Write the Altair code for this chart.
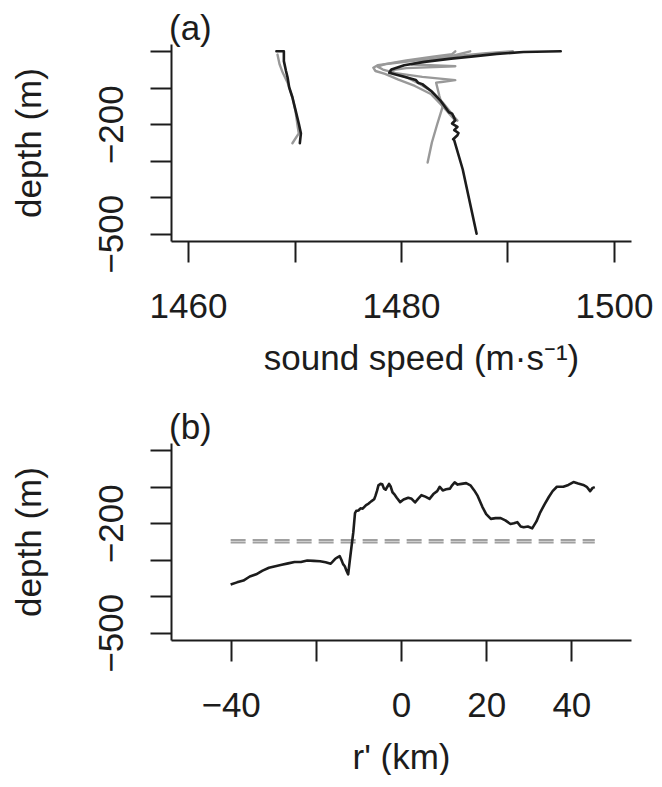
import altair as alt
import pandas as pd

# ---------------- panel (a): sound speed profiles ----------------
# black profiles (speed m/s, depth m)
blk_left_s = [1468.3, 1469.0, 1469.0, 1469.2, 1469.35, 1469.5, 1469.8, 1470.1, 1470.4, 1470.6, 1470.5]
blk_left_d = [0, 0, -27, -54, -72, -99, -126, -162, -198, -225, -252]

blk_right_s = [1495.0, 1491.5, 1489.0, 1486.8, 1484.7, 1482.2, 1480.3, 1479.1, 1478.9, 1479.4,
               1480.3, 1481.4, 1481.6, 1482.0, 1482.8, 1483.7, 1484.5, 1484.8, 1485.1, 1484.8,
               1485.3, 1485.0, 1485.4, 1485.3, 1484.9, 1485.0, 1485.8, 1487.1]
blk_right_d = [0, -2, -7, -14, -20, -29, -38, -50, -59, -63,
               -70, -79, -86, -90, -108, -135, -167, -171, -189, -198,
               -207, -216, -224, -230, -241, -244, -324, -500]

# grey profiles
gry_left_s = [1468.4, 1468.6, 1468.9, 1469.35, 1469.8, 1470.1, 1470.3, 1470.4, 1469.8]
gry_left_d = [-9, -36, -59, -86, -126, -165, -207, -225, -252]

gry1_s = [1490.5, 1488.0, 1485.5, 1483.0, 1480.0, 1477.8, 1477.4, 1477.6, 1478.5, 1479.7,
          1481.3, 1482.8, 1484.0, 1484.8, 1485.1]
gry1_d = [0, -5, -12, -20, -30, -38, -45, -54, -62, -77,
          -95, -117, -153, -180, -190]

gry2_s = [1485.1, 1484.8, 1483.0, 1480.5, 1478.5, 1477.8, 1478.3, 1479.5, 1482.0, 1485.1,
          1483.8, 1483.3, 1483.6, 1483.9, 1483.4, 1482.9, 1482.5]
gry2_d = [0, -8, -15, -25, -35, -42, -50, -60, -70, -79,
          -84, -86, -122, -153, -200, -250, -305]

gry3_s = [1486.5, 1484.5, 1482.0, 1481.0, 1485.1, 1480.5, 1479.0, 1479.4, 1480.6, 1481.8,
          1482.9, 1483.9, 1484.6, 1485.0, 1485.3]
gry3_d = [0, -15, -28, -36, -41, -46, -52, -60, -72, -90,
          -110, -140, -165, -180, -190]

# ---------------- panel (b): interface depth along r' ----------------
r_km = [-40, -38.5, -37, -35.5, -34, -32.5, -31, -29.5, -28, -26.5, -25, -23.5, -22, -20.5,
        -19, -17.7, -16.5, -15.5, -15, -14.4, -14, -13.6, -13.2, -12.8, -12.4, -12.0, -11.6,
        -11.2, -10.8, -10.5, -10, -9.5, -9, -8.2, -7.6, -7, -6.3, -6, -5.6, -5.3, -4.8, -4.4,
        -4.0, -3.6, -3.2, -2.8, -2.4, -2.0, -1.6, -1.0, -0.2, 0.6, 1.7, 2.5, 3.3, 4.0, 4.8,
        5.7, 6.7, 7.6, 8.5, 9.1, 9.8, 10.6, 11.5, 12.0, 12.6, 13.3, 14.2, 15.3, 16.3, 17.2,
        18.0, 19.1, 20.0, 21.1, 22.2, 23.4, 24.5, 25.7, 26.5, 27.3, 28.1, 28.8, 29.8, 30.8,
        31.8, 32.7, 33.7, 34.7, 35.6, 36.6, 37.4, 38.1, 39.3, 40.5, 41.6, 42.8, 43.6, 44.4,
        45.0, 45.5]
depth_b = [-368, -362, -357, -346, -340, -330, -322, -318, -314, -310, -306, -306, -302, -303,
           -304, -307, -311, -298, -294, -290, -300, -312, -318, -330, -340, -300, -262,
           -225, -172, -166, -165, -159, -160, -150, -146, -140, -134, -125, -110, -96, -92, -93,
           -105, -108, -100, -92, -100, -115, -120, -130, -142, -135, -130, -133, -143, -133, -123,
           -127, -133, -120, -112, -100, -110, -107, -105, -96, -88, -94, -92, -90, -96, -110,
           -125, -155, -175, -188, -186, -186, -192, -202, -200, -197, -209, -211, -209, -214,
           -195, -170, -148, -128, -112, -100, -100, -100, -95, -87, -91, -95, -100, -112,
           -103, -101]

ref_depths = [-246, -253]
ref_r_start = -40
ref_r_end = 45.5

a_x_ticks = [1460, 1470, 1480, 1490, 1500]
b_x_ticks = [-40, -20, 0, 20, 40]
y_ticks = [0, -100, -200, -300, -400, -500]

BLACK = "#1c1c1c"
GREY = "#999999"
FONT = "Liberation Sans"
FS = 35

W, H = 460, 197


def profiles(named):
    rows = []
    for name, (ss, dd) in named.items():
        for i, (s, d) in enumerate(zip(ss, dd)):
            rows.append({"series": name, "i": i, "s": s, "d": d})
    return pd.DataFrame(rows)


grey_df = profiles({"gl": (gry_left_s, gry_left_d), "g1": (gry1_s, gry1_d),
                    "g2": (gry2_s, gry2_d), "g3": (gry3_s, gry3_d)})
black_df = profiles({"bl": (blk_left_s, blk_left_d), "br": (blk_right_s, blk_right_d)})

yscale = alt.Scale(domain=[-520, 20], nice=False, zero=False)
y_axis = alt.Axis(
    values=y_ticks, tickCount=len(y_ticks),
    labelExpr="datum.value == -200 || datum.value == -500 ? datum.label : ''",
    format="d",
    labelAngle=270, labelAlign="center", labelBaseline="alphabetic", labelPadding=28,
    title="depth (m)", titleAngle=270, titleAlign="center", titleBaseline="alphabetic",
    titleX=-131, titleY=H / 2,
)
ya = alt.Y("d:Q", scale=yscale, axis=y_axis)

xa = alt.X("s:Q", scale=alt.Scale(domain=[1458.4, 1501.6], nice=False, zero=False),
           axis=alt.Axis(values=a_x_ticks, tickCount=len(a_x_ticks), format="d",
                         labelExpr="datum.value % 20 == 0 ? datum.label : ''",
                         labelBaseline="alphabetic", labelPadding=55,
                         title="sound speed (m·s⁻¹)", titleAlign="center",
                         titleBaseline="alphabetic", titleX=250, titleY=128))

grey_lines = alt.Chart(grey_df).mark_line(color=GREY, strokeWidth=2.4, strokeJoin="round",
                                          strokeCap="round").encode(
    x=xa, y=ya, detail="series:N", order="i:Q")
black_lines = alt.Chart(black_df).mark_line(color=BLACK, strokeWidth=2.6, strokeJoin="round",
                                            strokeCap="round").encode(
    x=xa, y=ya, detail="series:N", order="i:Q")

lab_a = alt.Chart(pd.DataFrame({"t": ["(a)"]})).mark_text(
    font=FONT, fontSize=FS, align="left", baseline="alphabetic", color=BLACK).encode(
    text="t:N", x=alt.value(-2), y=alt.value(-4))

panel_a = alt.layer(grey_lines, black_lines, lab_a).properties(width=W, height=H)

# panel b
line_df = pd.DataFrame({"r": r_km, "d": depth_b, "i": list(range(len(r_km)))})
ref_df = pd.DataFrame({"r": [ref_r_start] * 2, "r2": [ref_r_end] * 2, "d": ref_depths})

xb = alt.X("r:Q", scale=alt.Scale(domain=[-54, 54], nice=False, zero=False),
           axis=alt.Axis(values=b_x_ticks, tickCount=len(b_x_ticks), format="d",
                         labelExpr="datum.value == -20 ? '' : datum.label",
                         labelBaseline="alphabetic", labelPadding=55,
                         title="r' (km)", titleAlign="center", titleBaseline="alphabetic",
                         titleX=W / 2, titleY=128))

ref_rules = alt.Chart(ref_df).mark_rule(color="#a0a0a0", strokeWidth=2,
                                        strokeDash=[15, 7]).encode(
    x=xb, x2="r2:Q", y=ya)
b_line = alt.Chart(line_df).mark_line(color=BLACK, strokeWidth=2.6, strokeJoin="round").encode(
    x=xb, y=ya, order="i:Q")
lab_b = alt.Chart(pd.DataFrame({"t": ["(b)"]})).mark_text(
    font=FONT, fontSize=FS, align="left", baseline="alphabetic", color=BLACK).encode(
    text="t:N", x=alt.value(-2), y=alt.value(-4))

panel_b = alt.layer(ref_rules, b_line, lab_b).properties(width=W, height=H)

chart = alt.vconcat(panel_a, panel_b, spacing=35).properties(
    padding={"left": 4, "top": 4, "right": 0, "bottom": 0}
).configure_view(stroke=None).configure_axis(
    grid=False, domainColor=BLACK, domainWidth=2, tickColor=BLACK, tickWidth=2, tickSize=21,
    labelFont=FONT, labelFontSize=FS, labelColor=BLACK,
    titleFont=FONT, titleFontSize=FS, titleFontWeight="normal", titleColor=BLACK,
    labelOverlap=False, labelBound=False, labelFlush=False,
)

chart.save("out.html", embed_options={"renderer": "svg", "actions": False})
